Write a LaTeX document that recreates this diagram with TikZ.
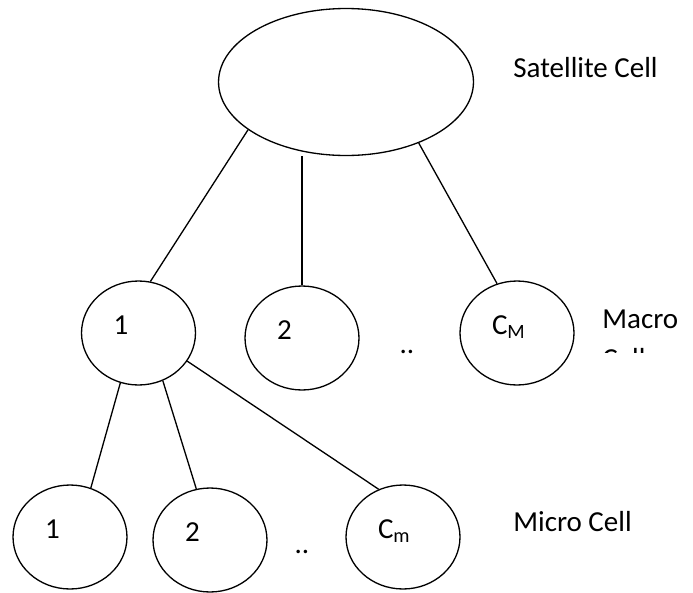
\documentclass[tikz,border=0pt]{standalone}
\usepackage{fontspec}
\setmainfont{Carlito}
\usetikzlibrary{shapes.geometric}
\tikzset{
  cell/.style={draw, ellipse, line width=0.75pt, minimum width=2.28cm, minimum height=2.08cm,
    text width=1cm, align=left, text height=0.37cm, text depth=0.33cm, inner sep=0pt},
  satcell/.style={draw, ellipse, line width=0.75pt, minimum width=5.1cm, minimum height=2.94cm},
  link/.style={line width=0.75pt},
  tag/.style={anchor=base west, inner sep=0pt}
}
\begin{document}
\begin{tikzpicture}[x=0.02cm, y=-0.02cm, font=\fontsize{16.5}{20}\selectfont]
		\useasboundingbox (0,0) rectangle (693,592);
		% satellite
		\node[satcell] (sat) at (346,82) {};
		\node[tag] (satlbl) at (513,77) {Satellite Cell};
		% macro cells
		\node[cell] (ma1) at (138.5,333) {1};
		\node[cell] (ma2) at (302,338) {2};
		\node[cell] (maC) at (517,333) {C\textsubscript{M}};
		\node[anchor=base, inner sep=0pt] (madots) at (407,353) {..};
		\node[tag] (malbl) at (602,328) {Macro};
		\begin{scope}
		\clip (590,340) rectangle (693,352);
		\node[tag] (malbl2) at (602,368) {Cell};
		\end{scope}
		% micro cells
		\node[cell] (mi1) at (70,537) {1};
		\node[cell] (mi2) at (210,540) {2};
		\node[cell] (miC) at (403,537) {C\textsubscript{m}};
		\node[anchor=base, inner sep=0pt] (midots) at (302,553) {..};
		\node[tag] (milbl) at (513,531) {Micro Cell};
		% links
		\draw[link] (sat.206) -- (ma1.77);
		\draw[link] (ma2.north) -- (ma2.north |- sat.south);
		\draw[link] (sat.320) -- (maC.112);
		\draw[link] (ma1.250) -- (mi1.67);
		\draw[link] (ma1.297) -- (mi2.105);
		\draw[link] (ma1.330) -- (miC.117);
\end{tikzpicture}
\end{document}
